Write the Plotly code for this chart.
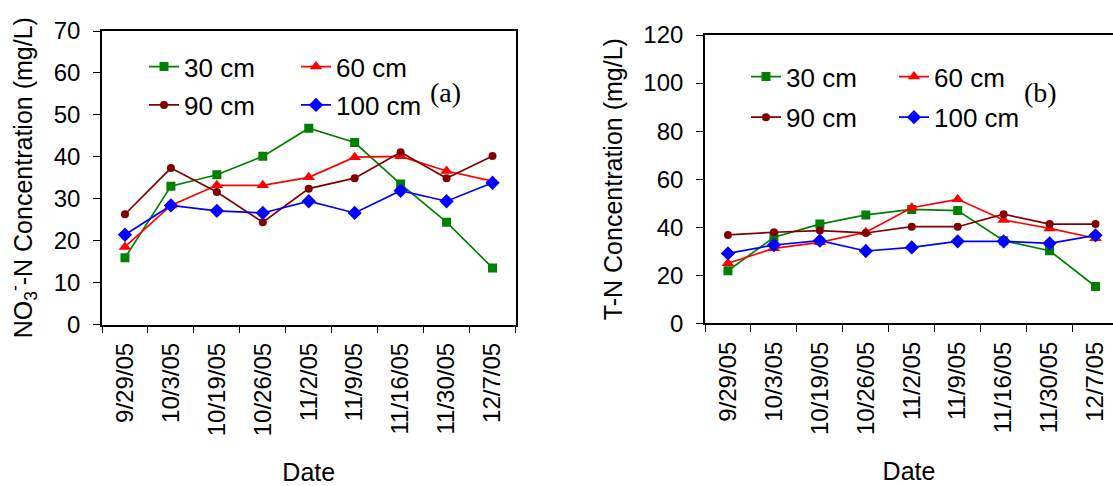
import plotly.graph_objects as go

dates = ["9/29/05", "10/3/05", "10/19/05", "10/26/05", "11/2/05",
         "11/9/05", "11/16/05", "11/30/05", "12/7/05"]
depths = ["30 cm", "60 cm", "90 cm", "100 cm"]

# Panel (a) NO3--N concentration (mg/L)
no3_30 = [15.9, 33.0, 35.7, 40.1, 46.8, 43.4, 33.5, 24.4, 13.5]
no3_60 = [18.5, 28.4, 33.2, 33.2, 35.1, 39.9, 40.1, 36.6, 34.2]
no3_90 = [26.3, 37.3, 31.6, 24.4, 32.4, 34.9, 41.1, 34.9, 40.2]
no3_100 = [21.4, 28.4, 27.1, 26.6, 29.4, 26.6, 31.9, 29.4, 33.8]

# Panel (b) T-N concentration (mg/L)
tn_30 = [21.9, 35.8, 41.3, 45.1, 47.4, 46.9, 34.4, 30.2, 15.3]
tn_60 = [25.0, 31.2, 33.7, 37.9, 48.1, 51.6, 43.0, 39.5, 35.4]
tn_90 = [36.8, 37.9, 38.6, 37.6, 40.2, 40.2, 45.4, 41.3, 41.3]
tn_100 = [29.1, 32.6, 34.4, 30.1, 31.6, 34.1, 34.1, 33.3, 36.6]

colors = ["#008000", "#FF0000", "#800000", "#0000FF"]
symbols = ["square", "triangle-up", "circle", "diamond"]
msizes = [9, 11, 8, 11]

W, H = 1113, 486
FONT = "Arial, 'Liberation Sans', sans-serif"
SERIF = "'Times New Roman', 'Liberation Serif', serif"

fig = go.Figure()

series_a = [no3_30, no3_60, no3_90, no3_100]
series_b = [tn_30, tn_60, tn_90, tn_100]

legend_names = ["legend", "legend2", "legend3", "legend4",
                "legend5", "legend6", "legend7", "legend8"]

for i, (name, ys) in enumerate(zip(depths, series_a)):
    fig.add_trace(go.Scatter(
        x=dates, y=ys, name=name, mode="lines+markers", showlegend=True,
        line=dict(color=colors[i], width=1.7),
        marker=dict(symbol=symbols[i], size=msizes[i], color=colors[i]),
        xaxis="x", yaxis="y", legend=legend_names[i]))
for i, (name, ys) in enumerate(zip(depths, series_b)):
    fig.add_trace(go.Scatter(
        x=dates, y=ys, name=name, mode="lines+markers", showlegend=True,
        line=dict(color=colors[i], width=1.7),
        marker=dict(symbol=symbols[i], size=msizes[i], color=colors[i]),
        xaxis="x2", yaxis="y2", legend=legend_names[4 + i]))

# plot-area pixel geometry
ax_l, ax_r, ax_t, ax_b = 102, 515.5, 31, 324.5
bx_l, bx_t, bx_b = 705, 35, 323.3
cat_w = (ax_r - ax_l) / 9.0
bx_right_val = -0.5 + (W - bx_l) / cat_w

tickfont = dict(family=FONT, size=24, color="black")
titlefont = dict(family=FONT, size=25, color="black")

common_x = dict(type="category", tickson="boundaries", ticks="outside",
                ticklen=7, tickwidth=1.2, tickcolor="black",
                showline=True, linecolor="black", linewidth=1.6,
                showgrid=False, zeroline=False, tickangle=-90,
                tickfont=tickfont, ticklabelstandoff=7, automargin=False,
                title=dict(text="Date", font=titlefont, standoff=28))
common_y = dict(ticks="outside", ticklen=7, tickwidth=1.2, tickcolor="black",
                showline=True, linecolor="black", linewidth=1.6,
                showgrid=False, zeroline=False, tickfont=tickfont,
                ticklabelstandoff=8, automargin=False)

fig.update_layout(
    width=W, height=H, showlegend=True,
    margin=dict(l=0, r=0, t=0, b=0, autoexpand=False),
    paper_bgcolor="white", plot_bgcolor="white",
    font=dict(family=FONT, color="black"),
    xaxis=dict(common_x, domain=[ax_l / W, ax_r / W], anchor="y",
               range=[-0.5, 8.5], mirror=True),
    yaxis=dict(common_y, domain=[(H - ax_b) / H, (H - ax_t) / H], anchor="x",
               range=[0, 70], dtick=10, mirror=True,
               title=dict(text="NO<sub>3</sub><sup>-</sup>-N Concentration (mg/L)",
                          font=titlefont, standoff=14)),
    xaxis2=dict(common_x, domain=[bx_l / W, 1.0], anchor="y2",
                range=[-0.5, bx_right_val], mirror=True),
    yaxis2=dict(common_y, domain=[(H - bx_b) / H, (H - bx_t) / H], anchor="x2",
                range=[0, 120], dtick=20, mirror=False,
                title=dict(text="T-N Concentration (mg/L)",
                           font=titlefont, standoff=14)),
)

# legend positions (text start x, row center y) in pixels
leg_pos = [(184, 66.7), (336, 66.7), (184, 105), (336, 105),
           (786, 76.7), (934, 76.7), (786, 117.3), (934, 117.3)]
legfont = dict(family=FONT, size=26, color="black")
for name, (tx, ty) in zip(legend_names, leg_pos):
    fig.update_layout({name: dict(
        x=(tx - 40) / W, y=(H - ty) / H, xanchor="left", yanchor="middle",
        orientation="v", bgcolor="rgba(0,0,0,0)", borderwidth=0,
        font=legfont, itemwidth=30, tracegroupgap=0, visible=True)})

fig.add_annotation(text="(a)", x=445 / W, y=(H - 93) / H, xref="paper", yref="paper",
                   xanchor="center", yanchor="middle", showarrow=False,
                   font=dict(family=SERIF, size=28, color="black"))
fig.add_annotation(text="(b)", x=1040 / W, y=(H - 92) / H, xref="paper", yref="paper",
                   xanchor="center", yanchor="middle", showarrow=False,
                   font=dict(family=SERIF, size=28, color="black"))

fig.write_html("out.html", config={"displayModeBar": False},
               post_script="document.body.style.margin='0';")
